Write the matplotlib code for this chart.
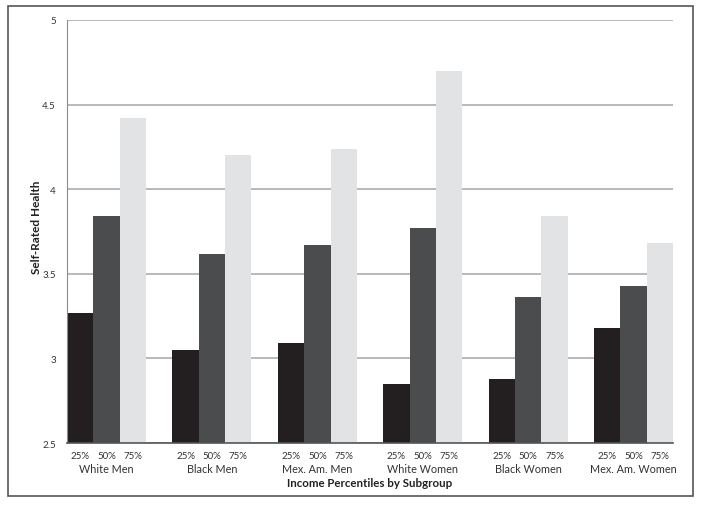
import numpy as np
import matplotlib
matplotlib.use("Agg")
import matplotlib.pyplot as plt
from matplotlib.patches import Rectangle
import matplotlib.transforms as mtransforms

plt.rcParams['font.family'] = ['Lato', 'DejaVu Sans']

groups = ['White Men', 'Black Men', 'Mex. Am. Men', 'White Women', 'Black Women', 'Mex. Am. Women']
pct_labels = ['25%', '50%', '75%']
p25 = [3.27, 3.05, 3.09, 2.85, 2.88, 3.18]
p50 = [3.84, 3.62, 3.67, 3.77, 3.36, 3.43]
p75 = [4.42, 4.20, 4.24, 4.70, 3.84, 3.68]
bar_colors = ['#231f20', '#4b4c4e', '#e2e3e4']


def main():
    fig = plt.figure(figsize=(7.04, 5.06), dpi=100)
    ax = fig.add_axes([0.0952, 0.1225, 0.861, 0.836])

    x = np.arange(len(groups))
    w = 0.25
    for i, vals in enumerate([p25, p50, p75]):
        ax.bar(x + (i - 1) * w, np.array(vals) - 2.5, w, bottom=2.5,
               color=bar_colors[i], zorder=2, linewidth=0)

    ax.set_ylim(2.5, 5)
    ax.set_xlim(-0.375, len(groups) - 1 + 0.375)
    ax.set_yticks([2.5, 3, 3.5, 4, 4.5, 5])
    ax.set_yticklabels(['2.5', '3', '3.5', '4', '4.5', '5'])
    ax.yaxis.grid(True, color='#a6a6a6', linewidth=1.1, zorder=0)
    ax.set_axisbelow(True)

    tick_pos = np.concatenate([x + (i - 1) * w for i in range(3)])
    tick_lab = [pct_labels[i] for i in range(3) for _ in groups]
    ax.set_xticks(tick_pos)
    ax.set_xticklabels(tick_lab)
    ax.tick_params(axis='x', length=0, pad=6, labelsize=7, labelcolor='#333333')
    ax.tick_params(axis='y', length=0, pad=8, labelsize=7, labelcolor='#333333')

    for s in ['top', 'right']:
        ax.spines[s].set_visible(False)
    ax.spines['left'].set_color('#8c8c8c')
    ax.spines['bottom'].set_color('#555555')
    ax.spines['bottom'].set_linewidth(1.2)

    trans = mtransforms.blended_transform_factory(ax.transData, fig.transFigure)
    for xi, g in zip(x, groups):
        ax.text(xi, 1 - 470 / 506, g, transform=trans, ha='center', va='center',
                fontsize=7.8, color='#333333')

    fig.text(0.5 * (0.0952 + 0.9562), 1 - 484 / 506, 'Income Percentiles by Subgroup',
             ha='center', va='center', fontsize=8.3, fontweight='bold', color='#222222')
    fig.text(36 / 704, 1 - 227 / 506, 'Self-Rated Health', rotation=90,
             ha='center', va='center', fontsize=8.5, fontweight='bold', color='#222222')

    fig.add_artist(Rectangle((0.0107, 0.0184), 0.974, 0.968, transform=fig.transFigure,
                             fill=False, edgecolor='#555555', linewidth=1.2))

    fig.savefig('out.png', dpi=100)


if __name__ == "__main__":
    main()
